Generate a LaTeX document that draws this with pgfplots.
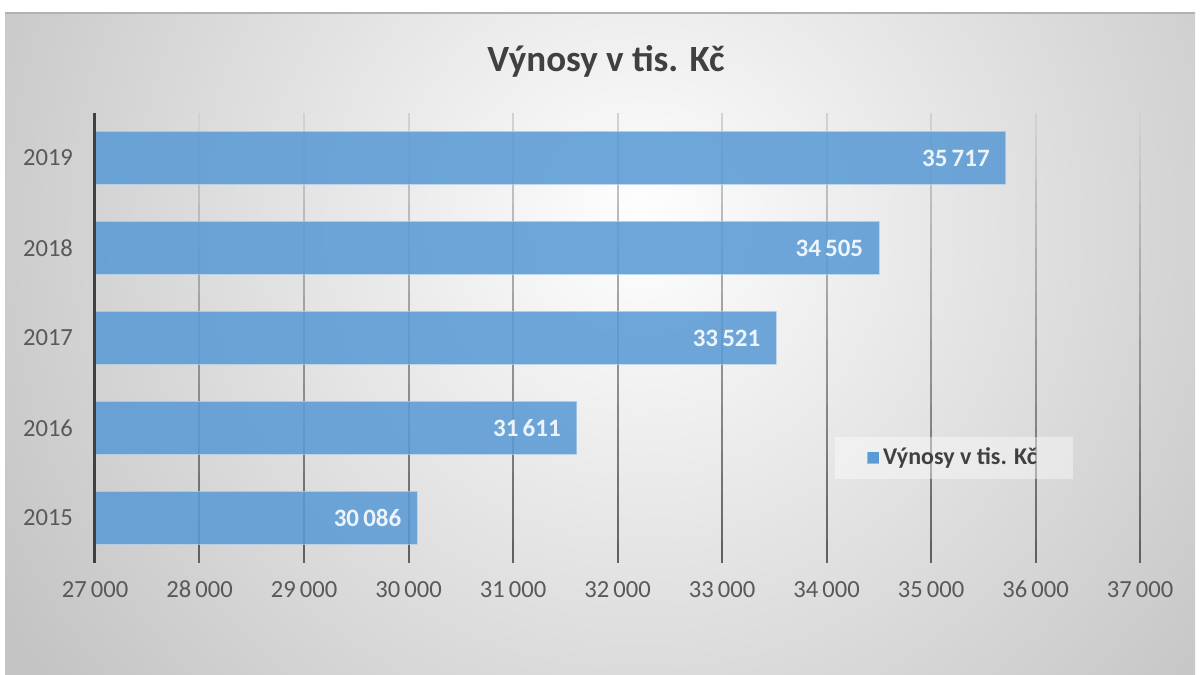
\documentclass[border=0pt]{standalone}
\usepackage{pgfplots}
\pgfplotsset{compat=1.18}
\usepackage{fontspec}
\setmainfont{Carlito}
\definecolor{barblue}{RGB}{91,155,213}
\definecolor{txtgray}{RGB}{89,89,89}
\definecolor{ttlgray}{RGB}{64,64,64}
\pgfdeclareradialshading{bgshade}{\pgfpoint{0bp}{0bp}}{color(0bp)=(white); color(3bp)=(white!97!black); color(25bp)=(black!23); color(50bp)=(black!23)}
\begin{document}
\begin{tikzpicture}
% page and chart background
\fill[white] (0,0) rectangle (600pt,337.5pt);
\begin{scope}
\clip (2.5pt,0pt) rectangle (597.5pt,331pt);
\fill[black!23] (2.5pt,0pt) rectangle (597.5pt,331pt);
\shade[shading=bgshade] (320pt,225pt) circle (370pt);
\end{scope}
\draw[black!30, line width=0.8pt] (2.5pt,331pt) -- (597.5pt,331pt);
\node[font=\bfseries\fontsize{18.5}{22}\selectfont, text=ttlgray] at (303pt,307pt) {Výnosy v tis. Kč};
\begin{axis}[
  at={(47.5pt,56pt)}, anchor=south west,
  scale only axis, width=522.5pt, height=225pt,
  clip mode=individual,
  xbar, bar width=26.5pt,
  xmin=27000, xmax=37000, ymin=-0.5, ymax=4.5,
  xtick={27000,28000,29000,30000,31000,32000,33000,34000,35000,36000,37000},
  ytick={0,1,2,3,4}, yticklabels={2015,2016,2017,2018,2019},
  scaled x ticks=false,
  major tick length=0pt,
  axis line style={draw=none},
  /pgf/number format/.cd, 1000 sep={\,}, assume math mode=true, fixed, precision=0, /pgfplots/.cd,
  ticklabel style={font=\fontsize{12.3}{14}\selectfont, text=txtgray},
  xticklabel style={yshift=-5.5pt},
  yticklabel style={xshift=-7.5pt},
  point meta=x,
  nodes near coords,
  every node near coord/.append style={anchor=east, xshift=-4.5pt, font=\bfseries\fontsize{12.5}{14}\selectfont, text=white},
  legend style={at={(0.822,0.234)}, anchor=center, draw=none, fill=white, fill opacity=0.4, text opacity=1,
    inner xsep=16pt, inner ysep=3.5pt, font=\bfseries\fontsize{12}{14}\selectfont, text=ttlgray},
  legend image code/.code={\fill[barblue, fill opacity=1] (2pt,-2.75pt) rectangle (7.5pt,2.75pt);},
]
\pgfplotsinvokeforeach{28000,29000,30000,31000,32000,33000,34000,35000,36000,37000}{
  \foreach \j in {0,...,19}{
    \pgfmathsetmacro{\ya}{-0.5+0.25*\j}
    \pgfmathsetmacro{\yb}{-0.25+0.25*\j}
    \pgfmathtruncatemacro{\c}{62-2.3*\j}
    \edef\tmp{\noexpand\draw[line width=1pt, color=black!\c, line cap=butt] (axis cs:#1,\ya) -- (axis cs:#1,\yb);}
    \tmp
  }
}
\addplot[fill=barblue, fill opacity=0.88, draw=barblue!40, draw opacity=0.6, line width=0.5pt] coordinates {
  (30086,0) (31611,1) (33521,2) (34505,3) (35717,4)
};
\addlegendentry{Výnosy v tis. Kč}
\draw[line width=1.5pt, color=black!75, line cap=butt] (axis cs:27000,-0.5) -- (axis cs:27000,4.5);
\end{axis}
\end{tikzpicture}
\end{document}
